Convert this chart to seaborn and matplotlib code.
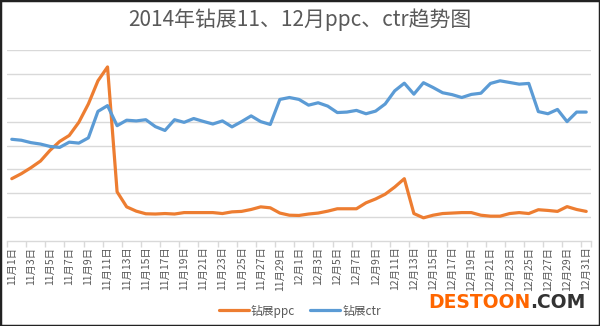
import matplotlib
matplotlib.use("Agg")
import matplotlib.pyplot as plt
from matplotlib.patches import Rectangle
from matplotlib.lines import Line2D
import seaborn as sns
import pandas as pd
import numpy as np

title = "2014年钻展11、12月ppc、ctr趋势图"
dates = [f"11月{d}日" for d in range(1, 31)] + [f"12月{d}日" for d in range(1, 32)]
series_names = ["钻展ppc", "钻展ctr"]
ppc = [2.61, 2.82, 3.07, 3.35, 3.80, 4.17, 4.42, 4.97, 5.74, 6.71, 7.29,
       2.06, 1.43, 1.25, 1.14, 1.13, 1.15, 1.13, 1.19, 1.19, 1.19,
       1.19, 1.15, 1.22, 1.24, 1.32, 1.43, 1.39, 1.17, 1.08, 1.07,
       1.13, 1.17, 1.25, 1.35, 1.35, 1.35, 1.60, 1.76, 1.96, 2.26,
       2.61, 1.15, 0.97, 1.08, 1.15, 1.17, 1.19, 1.19, 1.08, 1.04,
       1.04, 1.15, 1.19, 1.15, 1.31, 1.28, 1.24, 1.44, 1.32, 1.24]
ctr = [4.26, 4.22, 4.12, 4.06, 3.96, 3.92, 4.14, 4.10, 4.32, 5.43, 5.67,
       4.83, 5.06, 5.03, 5.08, 4.79, 4.63, 5.08, 4.97, 5.13, 5.01,
       4.90, 5.03, 4.78, 5.00, 5.24, 5.00, 4.88, 5.93, 6.01, 5.93,
       5.69, 5.79, 5.65, 5.38, 5.40, 5.47, 5.33, 5.44, 5.74, 6.29,
       6.61, 6.15, 6.63, 6.43, 6.21, 6.13, 6.01, 6.14, 6.19, 6.60,
       6.71, 6.64, 6.57, 6.60, 5.42, 5.33, 5.51, 5.00, 5.40, 5.40]
watermark_a = "DESTOON"
watermark_b = ".COM"

sns.set_theme(style="white")
plt.rcParams['font.family'] = ['Noto Sans CJK SC', 'DejaVu Sans']

n = len(dates)
df = pd.DataFrame({
    "idx": list(range(n)) * 2,
    "value": ppc + ctr,
    "series": [series_names[0]] * n + [series_names[1]] * n,
})

fig = plt.figure(figsize=(6.0, 3.26), dpi=100)
ax = fig.add_axes([7/600, 1 - 241/326, 584/600, (241 - 50)/326])

palette = {series_names[0]: "#ED7D31", series_names[1]: "#5B9BD5"}
sns.lineplot(data=df, x="idx", y="value", hue="series", palette=palette,
             linewidth=2.3, ax=ax, legend=False)

ax.set_xlim(-0.5, n - 0.5)
ax.set_ylim(0, 8)
ax.set_yticks(np.arange(1, 9))
ax.yaxis.grid(True, color="#D9D9D9", linewidth=1.0)
ax.set_yticklabels([])
ax.tick_params(axis="y", length=0)
ax.set_xlabel("")
ax.set_ylabel("")
for s in ["top", "right", "left"]:
    ax.spines[s].set_visible(False)
ax.spines["bottom"].set_color("#D9D9D9")
ax.spines["bottom"].set_linewidth(1.0)
ax.set_axisbelow(True)

major = list(range(0, n, 2))
ax.set_xticks(major)
ax.set_xticklabels([dates[i] for i in major], rotation=90, fontsize=7.5, color="#595959")
ax.set_xticks([i - 0.5 for i in major] + [n - 0.5], minor=True)
ax.tick_params(axis="x", which="major", length=0, pad=4)
ax.tick_params(axis="x", which="minor", length=4, color="#D9D9D9", width=1, bottom=True)

fig.text(0.5, 1 - 20/326, title, ha="center", va="center", fontsize=15, color="#595959")

handles = [Line2D([0], [0], color=palette[s], linewidth=2.3) for s in series_names]
fig.legend(handles, series_names, loc="center", bbox_to_anchor=(0.5, 1 - 311/326), ncol=2,
           frameon=False, fontsize=8.5, handlelength=2.5, handletextpad=0.2, columnspacing=1.3,
           labelcolor="#595959")

t1 = fig.text(428/600, 1 - 303/326, watermark_a, ha="left", va="center", fontsize=13.5,
              fontweight="bold", color="#FF6600", family=["DejaVu Sans"])
fig.canvas.draw()
bb = t1.get_window_extent(renderer=fig.canvas.get_renderer())
x_end = fig.transFigure.inverted().transform((bb.x1, bb.y0))[0]
fig.text(x_end, 1 - 303/326, watermark_b, ha="left", va="center", fontsize=13.5,
         fontweight="bold", color="#333333", family=["DejaVu Sans"])

fig.patches.append(Rectangle((0, 0), 1, 1, transform=fig.transFigure, fill=False,
                             edgecolor="#222222", linewidth=2.5))

fig.savefig("out.png", dpi=100)
